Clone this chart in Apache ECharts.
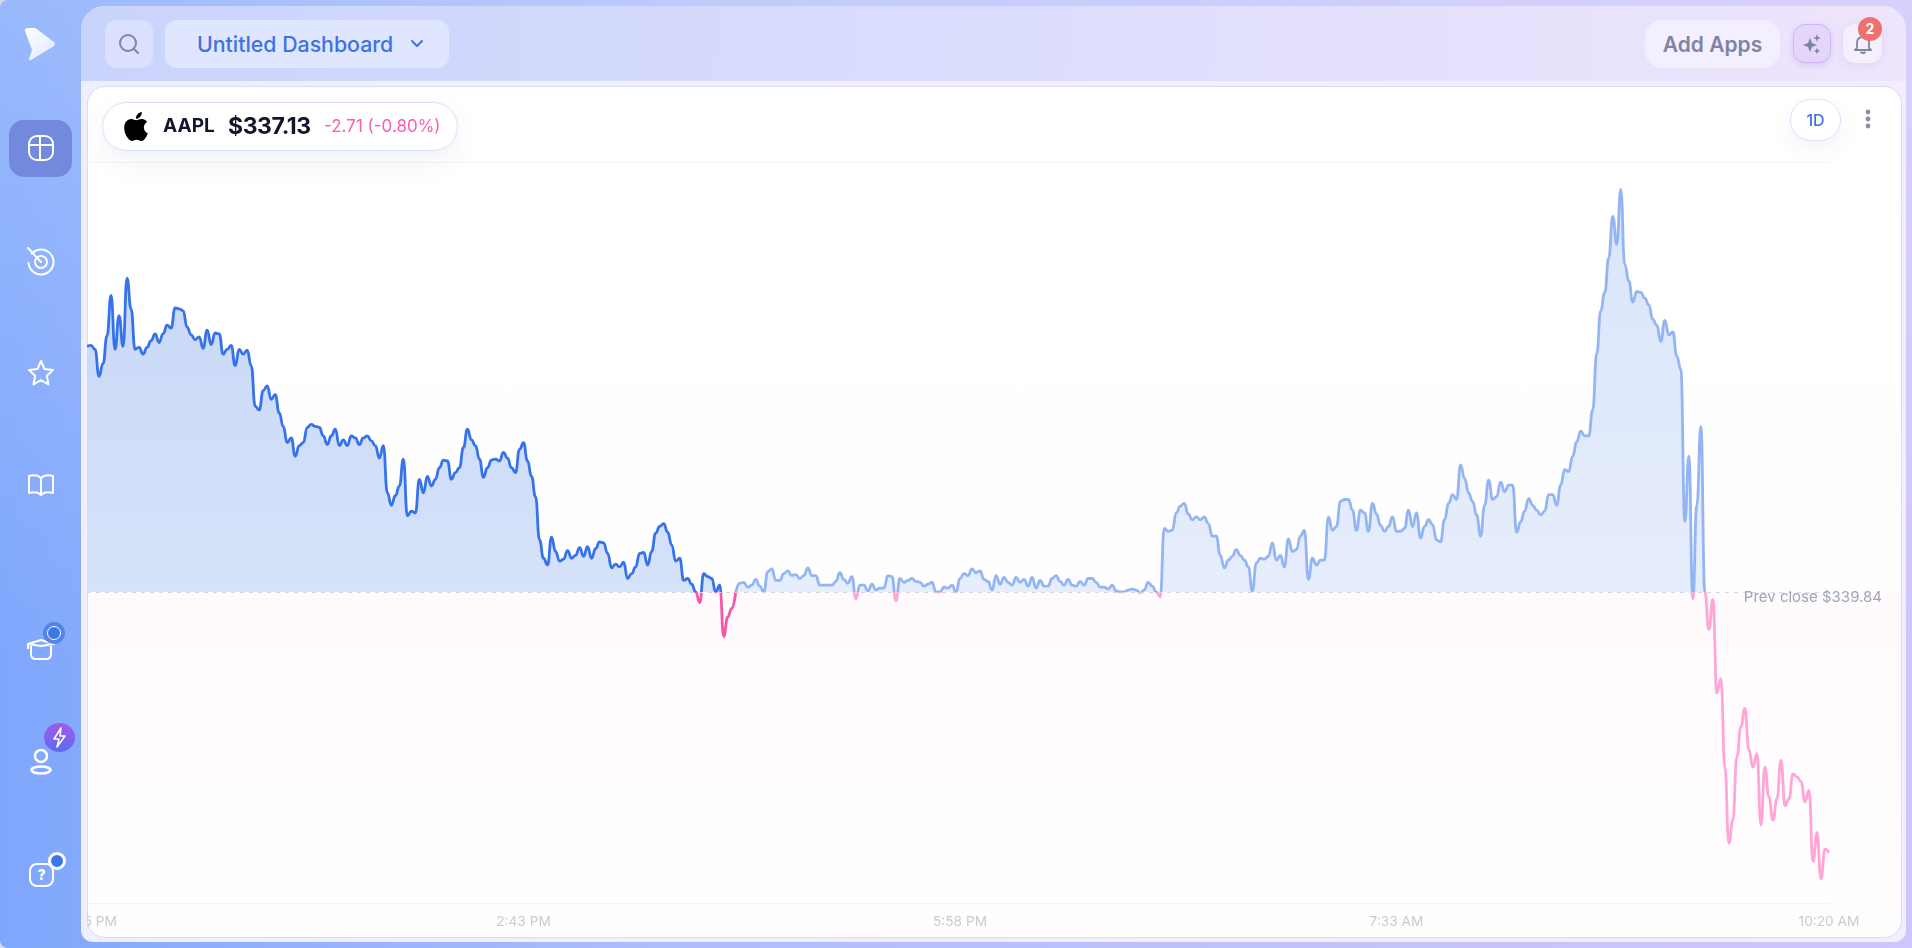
<!DOCTYPE html>
<html><head><meta charset="utf-8">
<script src="https://cdn.jsdelivr.net/npm/echarts@6/dist/echarts.min.js"></script>
<style>
html,body{margin:0;padding:0;width:1912px;height:948px;overflow:hidden;background:#d3d8ee;font-family:Inter,"Noto Sans",sans-serif}
.abs{position:absolute;box-sizing:border-box}
#frame{left:0;top:0;width:1912px;height:948px;border-radius:8px 0 0 8px;background:linear-gradient(to bottom,rgba(255,255,255,.2),rgba(255,255,255,0) 70%),linear-gradient(to right,#7fa7fc,#aebdfb 35%,#c8c4fb 80%,#cfc4fc)}
#panel{left:81px;top:6px;width:1825px;height:936px;border-radius:24px 24px 12px 12px;background:linear-gradient(to right,#f1efff,#f3edfd);overflow:hidden}
#head{left:0;top:0;width:1825px;height:75px;background:linear-gradient(95deg,#c9d4fc,#d9dcfd 45%,#efe5fc)}
#card{left:87px;top:86px;width:1815px;height:852px;border-radius:18px;background:linear-gradient(to bottom,#fff 0,#fefeff 505px,#fffbfd 506px,#fffcfe 700px,#fffefe 100%);border:1px solid #d6dcf8}
#chart{left:87px;top:86px;width:1814px;height:851px}
.btn{border-radius:12px;display:flex;align-items:center;justify-content:center}
.nav{left:27px;width:28px;height:28px}
svg{display:block;overflow:visible}
</style></head><body>
<div class="abs" id="frame"></div>
<div class="abs" id="panel"><div class="abs" id="head"></div></div>
<div class="abs" id="card"></div>

<svg class="abs" style="left:24px;top:28px" width="32" height="32" viewBox="0 0 32 32"><defs><linearGradient id="lg" x1="0" y1="0" x2="1" y2="1"><stop offset="0" stop-color="#fff"/><stop offset="1" stop-color="#dfe8ff"/></linearGradient></defs><path d="M1 3 Q0 0 4 0 L10 0 Q12 0 14 2 L30 14 Q32 16 30 18 L7 32 Q5 33 5 31 L8 22 Z" fill="url(#lg)"/></svg>
<div class="abs" style="left:9px;top:120px;width:63px;height:57px;border-radius:15px;background:#7289de"></div>

<svg class="abs nav" style="top:134px" viewBox="0 0 28 28" fill="none" stroke="#fff" stroke-width="2"><rect x="2" y="2" width="24" height="24" rx="8"/><path d="M2 11H26M13 2V26"/></svg>
<svg class="abs nav" style="top:247px" viewBox="0 0 28 28" fill="none" stroke="#fff" stroke-width="2" stroke-linecap="round"><circle cx="14" cy="15" r="12.5" stroke-dasharray="62 10" transform="rotate(-110 14 15)"/><circle cx="14" cy="15" r="6"/><path d="M1 1L14 15"/></svg>
<svg class="abs nav" style="top:359px" viewBox="0 0 28 28" fill="none" stroke="#fff" stroke-width="2" stroke-linejoin="round"><path d="M14 2L17.5 10L26 11L19.800 16.800L21.500 25.500L14 21L6.500 25.500L8.200 16.800L2 11L10.500 10Z"/></svg>
<svg class="abs nav" style="top:470px" viewBox="0 0 28 28" fill="none" stroke="#fff" stroke-width="2" stroke-linejoin="round"><path d="M14 8C11 5 6 5 2 6V23C6 22 11 22 14 25C17 22 22 22 26 23V6C22 5 17 5 14 8ZM14 8V25"/></svg>
<svg class="abs" style="left:26px;top:638px" width="30" height="22" viewBox="0 0 30 22" fill="none" stroke="#fff" stroke-width="2" stroke-linejoin="round"><path d="M2 6L15 2L28 6L15 8Z"/><path d="M5 8V16Q5 21 10 21H20Q25 21 25 16V8"/><path d="M2 6V11"/></svg>
<div class="abs" style="left:43px;top:622px;width:22px;height:22px;border-radius:50%;background:#4f80e8;opacity:.9"></div>
<div class="abs" style="left:47px;top:626px;width:14px;height:14px;border-radius:50%;background:#3b78e7;border:1.500px solid #fff"></div>
<svg class="abs" style="left:30px;top:749px" width="22" height="26" viewBox="0 0 22 26" fill="none" stroke="#fff" stroke-width="2.500"><circle cx="11" cy="7" r="6"/><ellipse cx="11" cy="21" rx="9.500" ry="3.500"/></svg>
<svg class="abs" style="left:44px;top:723px" width="31" height="29" viewBox="0 0 31 29"><defs><linearGradient id="bg" x1="0" y1="0" x2="0" y2="1"><stop offset="0" stop-color="#a259ef"/><stop offset="1" stop-color="#5a6cf0"/></linearGradient></defs><ellipse cx="15.500" cy="14.500" rx="15.500" ry="14.500" fill="url(#bg)"/><path d="M17 5L10 16H15L13 24L21 13H16Z" fill="none" stroke="#fff" stroke-width="1.600" stroke-linejoin="round"/></svg>
<div class="abs" style="left:29px;top:863px;width:25px;height:24px;border:2px solid #fff;border-radius:8px;color:#fff;font-size:14px;font-weight:800;line-height:20px;text-align:center">?</div>
<div class="abs" style="left:48px;top:852px;width:18px;height:18px;border-radius:50%;background:#3b78e7;border:3px solid #fff"></div>

<div class="abs btn" style="left:105px;top:20px;width:48px;height:48px;background:#dae0fd"><svg width="24" height="24" viewBox="0 0 24 24" fill="none" stroke="#80869f" stroke-width="2" stroke-linecap="round"><circle cx="11" cy="11" r="8"/><path d="M17 17L21 21"/></svg></div>
<div class="abs btn" style="left:165px;top:20px;width:284px;height:48px;background:#e0e6fe;justify-content:flex-start;padding-left:32px;color:#3d72e6;font-size:21.300px;font-weight:500">Untitled Dashboard</div>
<svg class="abs" style="left:410px;top:39px" width="14" height="10" viewBox="0 0 14 10" fill="none" stroke="#3d72e6" stroke-width="2" stroke-linecap="round" stroke-linejoin="round"><path d="M2 2L7 7L12 2"/></svg>

<div class="abs btn" style="left:1645px;top:20px;width:135px;height:48px;border-radius:18px;background:#f3effe;color:#7d84a3;font-size:21px;font-weight:600">Add Apps</div>
<div class="abs btn" style="left:1793px;top:24px;width:38px;height:39px;background:#e3d6fa;border:1.500px solid #cdb6f6;box-shadow:0 2px 6px rgba(120,90,200,.2)"><svg width="18" height="20" viewBox="0 0 18 20" fill="#7d84a3"><path d="M7 4L9 9L14 11L9 13L7 18L5 13L0 11L5 9Z"/><path d="M14 0L15 3L18 4L15 5L14 8L13 5L10 4L13 3Z"/><path d="M14 14L15 16L17 17L15 18L14 20L13 18L11 17L13 16Z"/></svg></div>
<div class="abs btn" style="left:1843px;top:24px;width:39px;height:39px;background:#f3effd;box-shadow:0 2px 8px rgba(120,100,200,.12)"><svg width="18" height="20" viewBox="0 0 18 20" fill="none" stroke="#80869f" stroke-width="1.800" stroke-linejoin="round"><path d="M3 14V9Q3 3 9 3Q15 3 15 9V14L17 16H1Z"/><path d="M6.500 18Q9 20 11.500 18"/></svg></div>
<div class="abs" style="left:1858px;top:17px;width:24px;height:24px;border-radius:50%;background:#f0706c;color:#fff;font-size:14px;font-weight:700;line-height:24px;text-align:center">2</div>

<div class="abs" style="left:102px;top:102px;width:356px;height:49px;border-radius:25px;background:#fff;border:1px solid #d7e1fb;box-shadow:0 10px 26px rgba(60,70,110,.07);z-index:5"></div>
<svg class="abs" style="left:123px;top:112px;z-index:6" width="26" height="29" viewBox="1.500 0 21 24" fill="#000"><path d="M12.152 6.896c-.948 0-2.415-1.078-3.96-1.04-2.04.027-3.91 1.183-4.961 3.014-2.117 3.675-.546 9.103 1.519 12.09 1.013 1.454 2.208 3.09 3.792 3.039 1.52-.065 2.09-.987 3.935-.987 1.831 0 2.35.987 3.96.948 1.637-.026 2.676-1.48 3.676-2.948 1.156-1.688 1.636-3.325 1.662-3.415-.039-.013-3.182-1.221-3.22-4.857-.026-3.04 2.48-4.494 2.597-4.559-1.429-2.09-3.623-2.324-4.39-2.376-2-.156-3.675 1.09-4.61 1.09zM15.53 3.83c.843-1.012 1.4-2.427 1.245-3.83-1.207.052-2.662.805-3.532 1.818-.78.896-1.454 2.338-1.273 3.714 1.338.104 2.715-.688 3.559-1.701"/></svg>
<div class="abs" style="left:163px;top:113px;z-index:6;font-size:19px;font-weight:700;color:#11162a;line-height:26px">AAPL</div>
<div class="abs" style="left:228px;top:112px;z-index:6;font-size:23px;font-weight:700;color:#11162a;line-height:28px;letter-spacing:-.4px">$337.13</div>
<div class="abs" style="left:324px;top:114px;z-index:6;font-size:17px;font-weight:400;color:#f95fae;line-height:24px">-2.71 (-0.80%)</div>
<div class="abs btn" style="left:1790px;top:99px;width:51px;height:42px;border-radius:21px;background:#fff;border:1px solid #d7e1fb;box-shadow:0 8px 22px rgba(60,70,110,.06);color:#3d72e6;font-size:16px;font-weight:500;z-index:5">1D</div>
<svg class="abs" style="left:1864px;top:109px;z-index:5" width="8" height="20" viewBox="0 0 8 20" fill="#8b8fa5"><circle cx="4" cy="3" r="2.400"/><circle cx="4" cy="10" r="2.400"/><circle cx="4" cy="17" r="2.400"/></svg>

<div class="abs" id="chart"></div>
<script>
var prevClose = 339.84;
var sessionEndIndex = 162;
// Change from the previous close, in cents from left to right.
var changeCents = [
255,256,252,224,237,266,308,252,287,255,
326,294,252,254,247,254,261,268,259,268,
277,274,295,294,292,275,267,262,265,253,
272,257,269,268,247,252,256,235,252,247,
251,235,193,189,209,214,200,205,186,172,
155,160,141,152,155,171,174,172,171,162,
153,162,169,152,158,152,162,160,153,160,
162,157,152,139,152,103,90,100,110,138,
79,84,82,117,103,120,110,117,129,137,
136,117,124,129,150,169,158,152,138,119,
129,137,138,136,145,139,129,124,148,155,
136,120,99,54,35,28,57,42,32,34,
43,35,38,46,37,47,35,45,52,51,
40,25,29,26,31,14,19,26,40,41,
28,42,61,68,71,62,49,32,35,12,
14,8,0,-11,19,16,14,0,7,-46,
-26,-17,0,9,10,5,7,13,6,0,
21,24,12,12,19,22,17,18,14,17,
25,17,17,7,7,7,7,11,20,13,
9,16,-7,7,7,1,8,2,4,4,
17,16,-9,14,10,12,14,11,10,6,
8,10,0,0,5,4,7,0,14,19,
17,24,20,22,13,11,2,17,8,15,
10,7,15,10,13,6,15,4,12,6,
6,14,17,11,7,13,7,6,11,7,
14,14,10,5,5,3,7,1,0,0,
2,3,2,-1,2,10,6,0,-5,66,
63,64,82,89,92,81,75,78,75,78,
71,58,58,38,25,33,37,44,38,33,
26,1,30,35,34,37,51,33,38,26,
55,42,44,58,64,13,35,28,33,33,
78,64,68,94,96,96,85,64,85,82,
63,92,81,69,63,68,78,63,63,66,
85,68,82,56,68,75,70,54,52,75,
92,101,96,132,118,103,94,80,58,90,
116,96,99,114,104,111,111,62,73,84,
97,90,85,80,84,101,101,90,111,127,
125,141,156,167,162,162,189,248,292,311,
347,390,361,418,340,323,301,312,311,305,
298,283,277,260,282,267,270,245,231,73,
141,-7,90,172,0,-39,-8,-105,-90,-182,
-261,-237,-171,-140,-121,-164,-182,-168,-242,-182,
-213,-237,-215,-175,-222,-215,-189,-192,-197,-218,
-206,-280,-250,-298,-267,-271
];
var tickIndexes = [0,109,218,327,changeCents.length-1];
var tickLabels = ['12:25 PM','2:43 PM','5:58 PM','7:33 AM','10:20 AM'];

var prices = changeCents.map(function(c){return +(prevClose + c/100).toFixed(2);});
var categories = prices.map(function(_,i){var k=tickIndexes.indexOf(i);return k<0?'':tickLabels[k];});
var pairs = prices.map(function(v,i){return [i,v];});

var chart = echarts.init(document.getElementById('chart'),null,{renderer:'canvas'});
var gridTop=76, gridBottom=34, canvasH=851;
var yMin=336.61, yMax=344.305;
var split=(yMax-prevClose)/(yMax-yMin);
function fill(a,b){return {type:'linear',global:true,x:0,y:gridTop,x2:0,y2:canvasH-gridBottom,
  colorStops:[{offset:0,color:a},{offset:split,color:b},{offset:split,color:'rgba(255,255,255,0)'},{offset:1,color:'rgba(255,255,255,0)'}]};}
var labelStyle={color:'#c9cbd2',fontSize:13.7,fontFamily:'Inter'};
chart.setOption({
  animation:false,
  backgroundColor:'transparent',
  grid:{left:0,right:72,top:gridTop,bottom:gridBottom,containLabel:false,outerBoundsMode:'none'},
  xAxis:[
    {type:'category',data:categories,boundaryGap:false,position:'bottom',
     axisLine:{show:true,lineStyle:{color:'#f3f3f6',width:1}},axisTick:{show:false},
     axisLabel:Object.assign({interval:function(i,v){return v!=='';},margin:12,hideOverlap:false},labelStyle),splitLine:{show:false}},
    {type:'category',data:categories,boundaryGap:false,position:'top',
     axisLine:{show:true,lineStyle:{color:'#f3f3f6',width:1}},axisTick:{show:false},axisLabel:{show:false},splitLine:{show:false}}
  ],
  yAxis:{type:'value',min:yMin,max:yMax,show:false,splitLine:{show:false}},
  visualMap:[
    {show:false,seriesIndex:0,dimension:1,pieces:[{gte:prevClose,lte:yMax,color:'#3672e9'},{gte:yMin,lt:prevClose,color:'#f955a8'}]},
    {show:false,seriesIndex:1,dimension:1,pieces:[{gte:prevClose,lte:yMax,color:'#93b5f3'},{gte:yMin,lt:prevClose,color:'#ffa6d6'}]}
  ],
  series:[
    {type:'line',name:'Regular session',data:pairs.slice(0,sessionEndIndex+1),showSymbol:false,smooth:0.5,smoothMonotone:'x',
     lineStyle:{width:2.8},areaStyle:{origin:prevClose,color:fill('#c3d5f6','#d6e2f9'),opacity:1},z:3,
     markLine:{silent:true,symbol:'none',animation:false,
       lineStyle:{color:'#d5d6df',type:[4,5],width:1},
       label:{show:false},
       data:[[{coord:[0,prevClose]},{coord:[prices.length-3,prevClose]}]]}},
    {type:'line',name:'Extended hours',data:pairs.slice(sessionEndIndex),showSymbol:false,smooth:0.5,smoothMonotone:'x',
     lineStyle:{width:2.8},areaStyle:{origin:prevClose,color:fill('#d9e5fb','#e6edfc'),opacity:1},z:2,
     markLine:{silent:true,symbol:'none',animation:false,
       lineStyle:{color:'rgba(0,0,0,0)',width:0},
       label:{show:true,position:'insideEndBottom',formatter:'Prev close $'+prevClose.toFixed(2),color:'#9ea5b5',fontSize:15,fontFamily:'Inter',distance:0,offset:[53,-2]},
       data:[{yAxis:prevClose}]}}
  ]
});
</script>
</body></html>
